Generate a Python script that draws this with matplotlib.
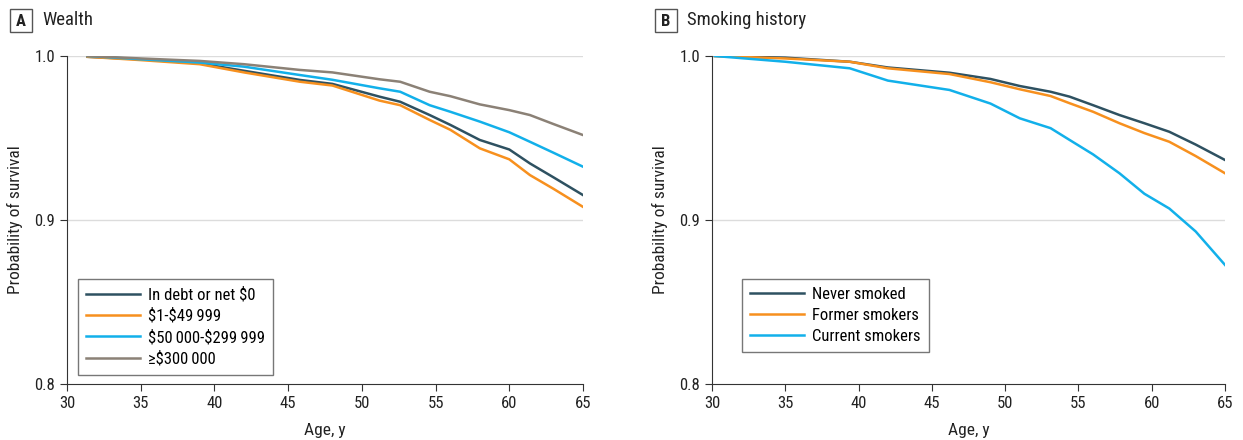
import matplotlib
matplotlib.use("Agg")
import matplotlib.pyplot as plt
from matplotlib.patches import Rectangle
from matplotlib import font_manager

names = set(f.name for f in font_manager.fontManager.ttflist)
narrow = [n for n in ['Roboto Condensed', 'Liberation Sans Narrow', 'DejaVu Sans Condensed',
                      'Open Sans Condensed'] if n in names]
plt.rcParams['font.family'] = narrow + ['DejaVu Sans']
if narrow:
    plt.rcParams['font.stretch'] = 'condensed'

# Panel A: wealth
wealth_age = [31.4, 35, 39, 42, 45.8, 48, 51.2, 52.6, 54.6, 56, 58, 60, 61.4, 63, 65]
wealth_debt = [0.9995, 0.998, 0.9955, 0.991, 0.9854, 0.983, 0.9752, 0.9721, 0.964, 0.958, 0.9488, 0.943, 0.9345, 0.926, 0.9152]
wealth_low = [0.9995, 0.9975, 0.995, 0.990, 0.9843, 0.982, 0.9728, 0.970, 0.961, 0.955, 0.9437, 0.937, 0.9274, 0.919, 0.908]
wealth_mid = [1.0, 0.998, 0.996, 0.9935, 0.9884, 0.9855, 0.9803, 0.9782, 0.970, 0.966, 0.960, 0.9535, 0.9477, 0.941, 0.9325]
wealth_high = [1.0, 0.9985, 0.997, 0.995, 0.9915, 0.990, 0.9858, 0.9843, 0.9782, 0.9755, 0.9705, 0.967, 0.964, 0.9585, 0.9518]
wealth_labels = ['In debt or net \\$0', '\\$1-\\$49\u2009999', '\\$50\u2009000-\\$299\u2009999', '\u2265\\$300\u2009000']

# Panel B: smoking history
smoke_age = [30.2, 35, 39.4, 42, 46.2, 49, 51, 53.1, 54.4, 56, 57.8, 59.5, 61.2, 63, 65]
smoke_never = [1.0, 0.999, 0.9965, 0.993, 0.9898, 0.986, 0.9817, 0.9782, 0.9752, 0.970, 0.964, 0.959, 0.9538, 0.946, 0.9366]
smoke_former = [1.0, 0.9985, 0.9965, 0.9925, 0.989, 0.984, 0.9797, 0.9756, 0.9712, 0.966, 0.959, 0.953, 0.9477, 0.939, 0.9285]
smoke_current = [1.0, 0.9965, 0.9925, 0.985, 0.9793, 0.971, 0.962, 0.956, 0.9488, 0.940, 0.9285, 0.916, 0.907, 0.893, 0.8726]
smoke_labels = ['Never smoked', 'Former smokers', 'Current smokers']

x_ticks = [30, 35, 40, 45, 50, 55, 60, 65]
y_ticks = [0.8, 0.9, 1.0]

DARK = '#2e5161'
ORANGE = '#f7901e'
BLUE = '#12b0ea'
GRAY = '#8b8176'


def draw_panel(fig, ax, letter, title, ages, series, labels, colors, legend_pos, box_x):
    for vals, lab, col in zip(series, labels, colors):
        ax.plot(ages, vals, color=col, lw=1.8, label=lab)
    ax.set_xlim(30, 65)
    ax.set_ylim(0.8, 1.0)
    ax.set_xticks(x_ticks)
    ax.set_yticks(y_ticks)
    ax.set_yticklabels(['0.8', '0.9', '1.0'])
    for y in [0.9, 1.0]:
        ax.axhline(y, color='#dcdcdc', lw=1, zorder=0)
    ax.spines['top'].set_visible(False)
    ax.spines['right'].set_visible(False)
    ax.spines['left'].set_color('#333333')
    ax.spines['bottom'].set_color('#333333')
    ax.tick_params(axis='both', direction='out', length=5, color='#333333',
                   labelsize=12, labelcolor='#222222')
    ax.set_xlabel('Age, y', fontsize=12.5, color='#222222', labelpad=9)
    ax.set_ylabel('Probability of survival', fontsize=12.5, color='#222222', labelpad=8)
    leg = ax.legend(loc='lower left', bbox_to_anchor=legend_pos, fontsize=12,
                    frameon=True, fancybox=False, edgecolor='#555555',
                    handlelength=3.2, handletextpad=0.5, borderpad=0.5,
                    labelspacing=0.35, borderaxespad=0)
    leg.get_frame().set_linewidth(1.0)
    # panel letter box and title
    fig.patches.append(Rectangle((box_x / 1243, 1 - 32 / 440), 22 / 1243, 23 / 440,
                                 transform=fig.transFigure, fill=False,
                                 edgecolor='#555555', lw=1))
    fig.text((box_x + 11) / 1243, 1 - 21 / 440, letter, ha='center', va='center',
             fontsize=12, fontweight='bold', color='#222222')
    fig.text((box_x + 32) / 1243, 1 - 20 / 440, title, ha='left', va='center',
             fontsize=13.5, color='#222222')


fig = plt.figure(figsize=(12.43, 4.4), dpi=100)
ax1 = fig.add_axes([67 / 1243, 1 - 384 / 440, 516 / 1243, 328 / 440])
ax2 = fig.add_axes([712 / 1243, 1 - 384 / 440, 513 / 1243, 328 / 440])

draw_panel(fig, ax1, 'A', 'Wealth', wealth_age,
           [wealth_debt, wealth_low, wealth_mid, wealth_high], wealth_labels,
           [DARK, ORANGE, BLUE, GRAY], (11 / 516, 9 / 328), 10)
draw_panel(fig, ax2, 'B', 'Smoking history', smoke_age,
           [smoke_never, smoke_former, smoke_current], smoke_labels,
           [DARK, ORANGE, BLUE], (30 / 513, 32 / 328), 655)

fig.savefig('out.png', dpi=100)
